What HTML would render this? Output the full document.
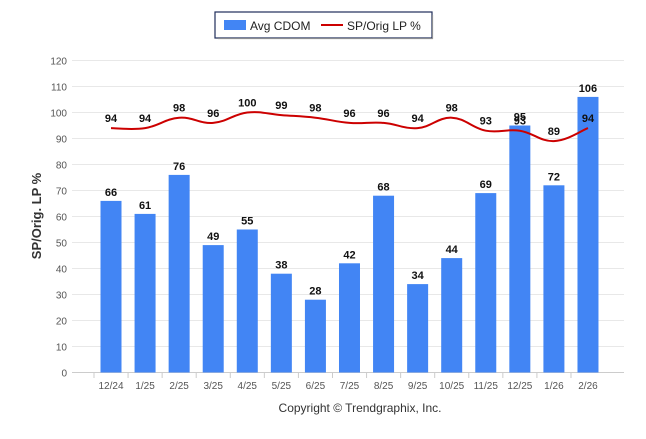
<!DOCTYPE html>
<html><head><meta charset="utf-8"><style>
body{margin:0;background:#fff;font-family:"Liberation Sans",Arial,sans-serif}
svg text{font-family:"Liberation Sans",Arial,sans-serif}
</style></head><body>
<svg id="c" width="646" height="434" xmlns="http://www.w3.org/2000/svg">
<rect x="215" y="12" width="217" height="26" fill="#fff" stroke="#1f2d5a" stroke-width="1.2"/>
<line x1="218" y1="38.6" x2="433" y2="38.6" stroke="#999" stroke-width="1"/>
<line x1="432.6" y1="15" x2="432.6" y2="39" stroke="#999" stroke-width="1"/>
<rect x="224" y="20" width="22" height="10" fill="#4285f4"/>
<text x="250" y="30" font-size="12" fill="#222">Avg CDOM</text>
<line x1="321" y1="25" x2="343" y2="25" stroke="#cc0000" stroke-width="2"/>
<text x="347" y="30" font-size="12" fill="#222">SP/Orig LP %</text>
<text transform="translate(41,216) rotate(-90)" text-anchor="middle" font-size="13" font-weight="bold" fill="#333">SP/Orig. LP %</text>
<text x="360" y="412" text-anchor="middle" font-size="12" fill="#333">Copyright © Trendgraphix, Inc.</text>
<g id="grid"></g><g id="bars"></g><g id="line"></g><g id="labels"></g>
</svg>
<script>
const categories=["12/24","1/25","2/25","3/25","4/25","5/25","6/25","7/25","8/25","9/25","10/25","11/25","12/25","1/26","2/26"];
const cdom=[66,61,76,49,55,38,28,42,68,34,44,69,95,72,106];
const sp=[94,94,98,96,100,99,98,96,96,94,98,93,93,89,94];
const yTicks=[0,10,20,30,40,50,60,70,80,90,100,110,120];
const NS="http://www.w3.org/2000/svg";
const y=v=>372.5-v*(312/120);
const x=i=>111+i*34.07;
function mk(tag,attrs,parent,txt){const e=document.createElementNS(NS,tag);for(const k in attrs)e.setAttribute(k,attrs[k]);if(txt!=null)e.textContent=txt;document.getElementById(parent).appendChild(e);return e;}
yTicks.forEach(t=>{
 const g=mk('line',{x1:72,x2:624,y1:y(t),y2:y(t),stroke:t===0?'#ccc':'#e8e8e8','stroke-width':1},'grid');
 
 
 const l=mk('text',{x:67,y:y(t)+4,'text-anchor':'end','font-size':10,fill:'#555'},'grid',t);
 
 
});
categories.forEach((c,i)=>{
 const tk=mk('line',{x1:x(i)-17,x2:x(i)-17,y1:372.5,y2:378,stroke:'#ccc'},'grid');
 
 
 const l=mk('text',{x:x(i),y:389,'text-anchor':'middle','font-size':10,fill:'#555'},'grid',c);
 
 
 const b=mk('rect',{x:x(i)-10.5,y:y(cdom[i]),width:21,height:372.5-y(cdom[i]),fill:'#4285f4'},'bars');
 
 
 const bl=mk('text',{x:x(i),y:y(cdom[i])-5,'text-anchor':'middle','font-size':11,'font-weight':'bold',fill:'#111'},'labels',cdom[i]);
 
 
 const pl=mk('text',{x:x(i),y:y(sp[i])-6,'text-anchor':'middle','font-size':11,'font-weight':'bold',fill:'#111'},'labels',sp[i]);
 
 
});
const pts=sp.map((v,i)=>[x(i),y(v)]);
let d='M'+pts[0][0]+','+pts[0][1];
for(let i=0;i<pts.length-1;i++){
 const p0=pts[Math.max(i-1,0)],p1=pts[i],p2=pts[i+1],p3=pts[Math.min(i+2,pts.length-1)];
 const t=0.2;
 d+=` C${p1[0]+(p2[0]-p0[0])*t},${p1[1]+(p2[1]-p0[1])*t} ${p2[0]-(p3[0]-p1[0])*t},${p2[1]-(p3[1]-p1[1])*t} ${p2[0]},${p2[1]}`;
}
const ln=mk('path',{d:d,fill:'none',stroke:'#cc0000','stroke-width':2},'line');


</script>
</body></html>
